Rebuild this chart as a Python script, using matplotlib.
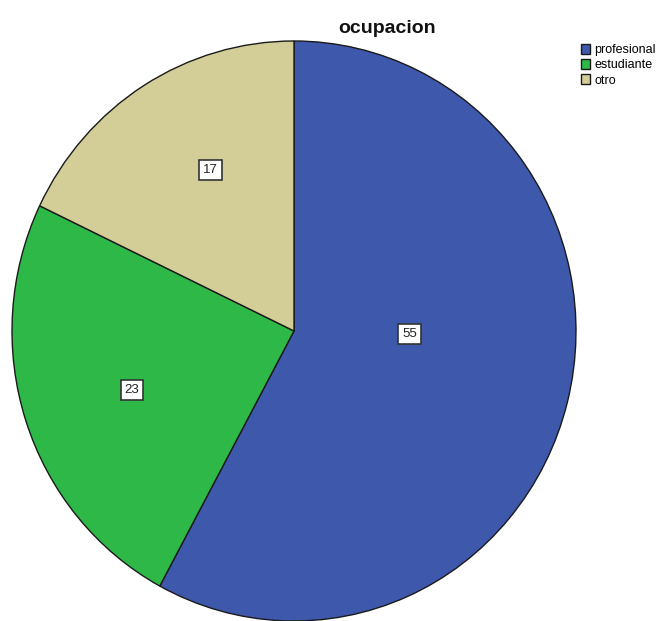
import numpy as np
import matplotlib
matplotlib.use('Agg')
import matplotlib.pyplot as plt

plt.rcParams['font.family'] = ['Liberation Sans', 'DejaVu Sans']

# data
categories = ['profesional', 'estudiante', 'otro']
counts = [55, 23, 17]
colors = ['#3E58AC', '#2EB848', '#D3CE97']

# label placement (fraction of radius, angle in degrees) - as in the SPSS output
label_pos = [(0.41, -1.5), (0.61, 199.5), (0.63, 118.0)]

W, H = 666, 621
fig = plt.figure(figsize=(W / 100, H / 100), dpi=100)

# pie box in pixels (slightly taller than wide, like the original)
cx, cy, rx, ry = 294, 331, 282, 290
ax = fig.add_axes([(cx - rx) / W, 1 - (cy + ry) / H, 2 * rx / W, 2 * ry / H])

wedges, _ = ax.pie(counts, colors=colors, startangle=90, counterclock=False,
                   radius=1, wedgeprops=dict(edgecolor='#1a1a1a', linewidth=1.0))
ax.set_aspect('auto')
ax.set_xlim(-1, 1)
ax.set_ylim(-1, 1)
ax.axis('off')

for val, (dist, ang) in zip(counts, label_pos):
    a = np.deg2rad(ang)
    ax.text(dist * np.cos(a), dist * np.sin(a), str(val), ha='center', va='center',
            fontsize=9.5, color='#222222',
            bbox=dict(boxstyle='square,pad=0.3', facecolor='white',
                      edgecolor='#333333', linewidth=1.2))

fig.text(387 / W, 1 - 33 / H, 'ocupacion', ha='center', va='baseline',
         fontsize=14, fontweight='bold', color='#111111')

fig.legend(wedges, categories, loc='upper left', bbox_to_anchor=(581 / W, 1 - 44 / H),
           frameon=False, fontsize=9, handlelength=0.75, handleheight=0.9,
           handletextpad=0.3, labelspacing=0.2, borderpad=0, borderaxespad=0)

fig.savefig('out.png', dpi=100)
